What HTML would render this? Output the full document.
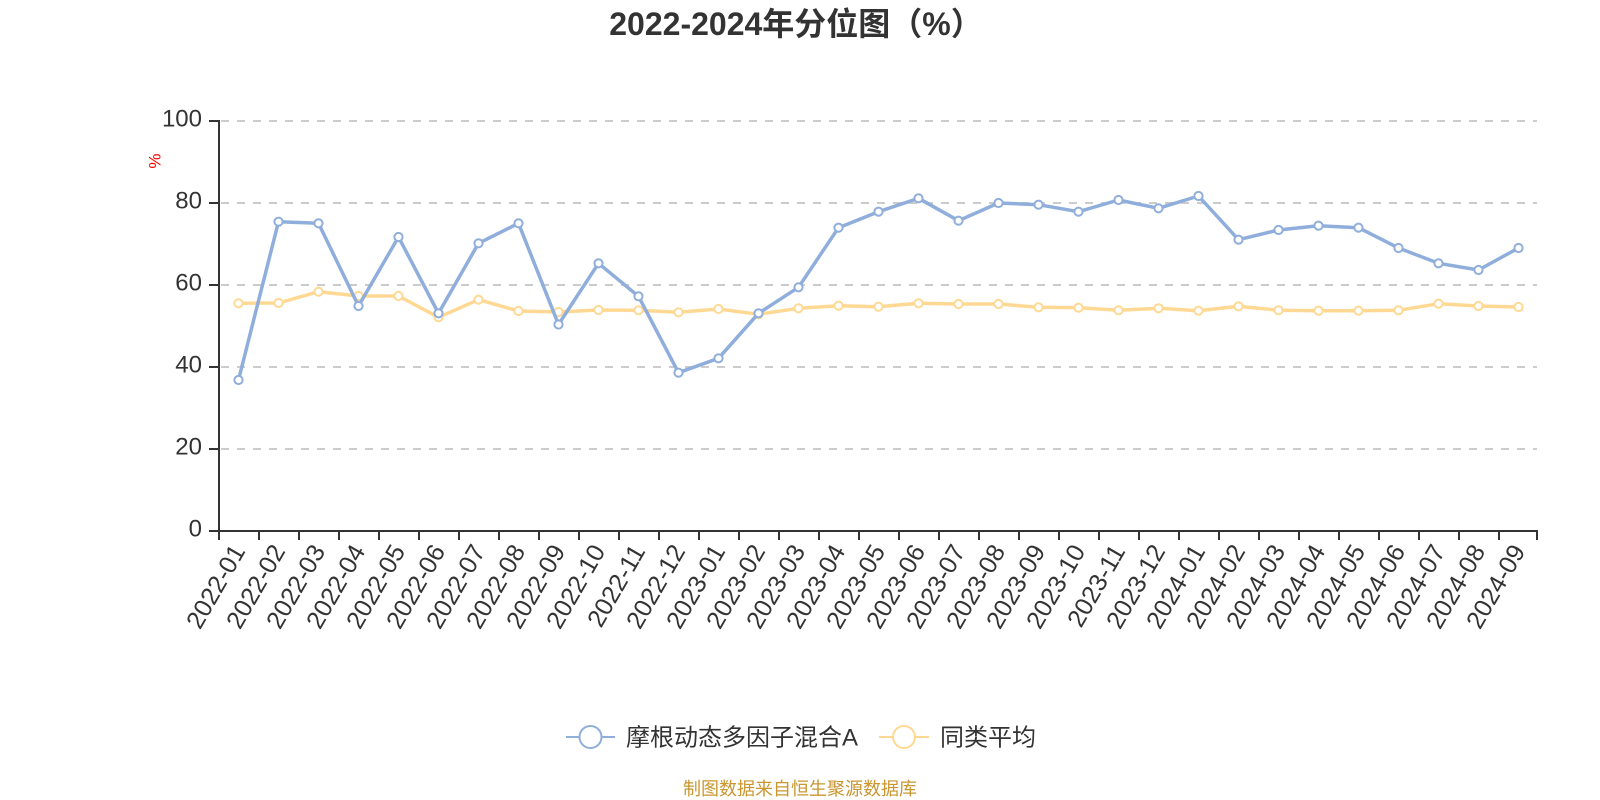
<!DOCTYPE html>
<html>
<head>
<meta charset="utf-8">
<style>
  html, body { margin:0; padding:0; background:#fff; }
  svg { display:block; }
  text { font-family: "Liberation Sans", "Noto Sans CJK SC", sans-serif; }
</style>
</head>
<body>
<svg width="1600" height="800" viewBox="0 0 1600 800" xmlns="http://www.w3.org/2000/svg">
  <rect width="1600" height="800" fill="#fff"/>
  <!-- title -->
  <text x="796" y="35" text-anchor="middle" font-size="32" font-weight="bold" fill="#333">2022-2024年分位图（%）</text>

  <!-- grid lines -->
  <g stroke="#ccc" stroke-width="2" stroke-dasharray="8 8">
    <line x1="221" y1="121" x2="1537" y2="121"/>
    <line x1="221" y1="203" x2="1537" y2="203"/>
    <line x1="221" y1="285" x2="1537" y2="285"/>
    <line x1="221" y1="367" x2="1537" y2="367"/>
    <line x1="221" y1="449" x2="1537" y2="449"/>
  </g>

  <!-- y axis -->
  <g stroke="#333" stroke-width="2">
    <line x1="219" y1="120" x2="219" y2="532"/>
    <line x1="209" y1="121" x2="219" y2="121"/>
    <line x1="209" y1="203" x2="219" y2="203"/>
    <line x1="209" y1="285" x2="219" y2="285"/>
    <line x1="209" y1="367" x2="219" y2="367"/>
    <line x1="209" y1="449" x2="219" y2="449"/>
    <line x1="209" y1="531" x2="219" y2="531"/>
  </g>
  <g font-size="24" fill="#333" text-anchor="end">
    <text x="202" y="126.5">100</text>
    <text x="202" y="208.5">80</text>
    <text x="202" y="290.5">60</text>
    <text x="202" y="372.5">40</text>
    <text x="202" y="454.5">20</text>
    <text x="202" y="536.5">0</text>
  </g>
  <text x="0" y="0" font-size="17" fill="#ff0000" text-anchor="middle" dominant-baseline="central" transform="translate(155,161) rotate(-90)">%</text>

  <!-- x axis -->
  <g stroke="#333" stroke-width="2">
    <line x1="218" y1="531" x2="1538" y2="531"/>
    <line x1="219" y1="531" x2="219" y2="540"/>
    <line x1="259" y1="531" x2="259" y2="540"/>
    <line x1="299" y1="531" x2="299" y2="540"/>
    <line x1="339" y1="531" x2="339" y2="540"/>
    <line x1="379" y1="531" x2="379" y2="540"/>
    <line x1="419" y1="531" x2="419" y2="540"/>
    <line x1="459" y1="531" x2="459" y2="540"/>
    <line x1="499" y1="531" x2="499" y2="540"/>
    <line x1="539" y1="531" x2="539" y2="540"/>
    <line x1="579" y1="531" x2="579" y2="540"/>
    <line x1="619" y1="531" x2="619" y2="540"/>
    <line x1="659" y1="531" x2="659" y2="540"/>
    <line x1="699" y1="531" x2="699" y2="540"/>
    <line x1="739" y1="531" x2="739" y2="540"/>
    <line x1="779" y1="531" x2="779" y2="540"/>
    <line x1="819" y1="531" x2="819" y2="540"/>
    <line x1="859" y1="531" x2="859" y2="540"/>
    <line x1="899" y1="531" x2="899" y2="540"/>
    <line x1="939" y1="531" x2="939" y2="540"/>
    <line x1="979" y1="531" x2="979" y2="540"/>
    <line x1="1019" y1="531" x2="1019" y2="540"/>
    <line x1="1059" y1="531" x2="1059" y2="540"/>
    <line x1="1099" y1="531" x2="1099" y2="540"/>
    <line x1="1139" y1="531" x2="1139" y2="540"/>
    <line x1="1179" y1="531" x2="1179" y2="540"/>
    <line x1="1219" y1="531" x2="1219" y2="540"/>
    <line x1="1259" y1="531" x2="1259" y2="540"/>
    <line x1="1299" y1="531" x2="1299" y2="540"/>
    <line x1="1339" y1="531" x2="1339" y2="540"/>
    <line x1="1379" y1="531" x2="1379" y2="540"/>
    <line x1="1419" y1="531" x2="1419" y2="540"/>
    <line x1="1459" y1="531" x2="1459" y2="540"/>
    <line x1="1499" y1="531" x2="1499" y2="540"/>
    <line x1="1537" y1="531" x2="1537" y2="540"/>
  </g>
  <g font-size="25" fill="#333" text-anchor="end" dominant-baseline="central">
    <text transform="translate(239,547) rotate(-60)">2022-01</text>
    <text transform="translate(279,547) rotate(-60)">2022-02</text>
    <text transform="translate(319,547) rotate(-60)">2022-03</text>
    <text transform="translate(359,547) rotate(-60)">2022-04</text>
    <text transform="translate(399,547) rotate(-60)">2022-05</text>
    <text transform="translate(439,547) rotate(-60)">2022-06</text>
    <text transform="translate(479,547) rotate(-60)">2022-07</text>
    <text transform="translate(519,547) rotate(-60)">2022-08</text>
    <text transform="translate(559,547) rotate(-60)">2022-09</text>
    <text transform="translate(599,547) rotate(-60)">2022-10</text>
    <text transform="translate(639,547) rotate(-60)">2022-11</text>
    <text transform="translate(679,547) rotate(-60)">2022-12</text>
    <text transform="translate(719,547) rotate(-60)">2023-01</text>
    <text transform="translate(759,547) rotate(-60)">2023-02</text>
    <text transform="translate(799,547) rotate(-60)">2023-03</text>
    <text transform="translate(839,547) rotate(-60)">2023-04</text>
    <text transform="translate(879,547) rotate(-60)">2023-05</text>
    <text transform="translate(919,547) rotate(-60)">2023-06</text>
    <text transform="translate(959,547) rotate(-60)">2023-07</text>
    <text transform="translate(999,547) rotate(-60)">2023-08</text>
    <text transform="translate(1039,547) rotate(-60)">2023-09</text>
    <text transform="translate(1079,547) rotate(-60)">2023-10</text>
    <text transform="translate(1119,547) rotate(-60)">2023-11</text>
    <text transform="translate(1159,547) rotate(-60)">2023-12</text>
    <text transform="translate(1199,547) rotate(-60)">2024-01</text>
    <text transform="translate(1239,547) rotate(-60)">2024-02</text>
    <text transform="translate(1279,547) rotate(-60)">2024-03</text>
    <text transform="translate(1319,547) rotate(-60)">2024-04</text>
    <text transform="translate(1359,547) rotate(-60)">2024-05</text>
    <text transform="translate(1399,547) rotate(-60)">2024-06</text>
    <text transform="translate(1439,547) rotate(-60)">2024-07</text>
    <text transform="translate(1479,547) rotate(-60)">2024-08</text>
    <text transform="translate(1519,547) rotate(-60)">2024-09</text>
  </g>

  <!-- yellow series (同类平均) -->
  <polyline fill="none" stroke="#FFD993" stroke-width="3.5" stroke-linejoin="round"
    points="238.5,303.3 278.5,303 318.5,291.7 358.5,296 398.5,296 438.5,317.3 478.5,299.7 518.5,311 558.5,312 598.5,310 638.5,310.3 678.5,312.3 718.5,309 758.5,314.3 798.5,308.3 838.5,305.7 878.5,306.7 918.5,303.3 958.5,304 998.5,304 1038.5,307.3 1078.5,307.7 1118.5,310.3 1158.5,308.3 1198.5,310.7 1238.5,306.3 1278.5,310.3 1318.5,310.7 1358.5,310.7 1398.5,310.3 1438.5,303.7 1478.5,306 1518.5,307"/>
  <g fill="#fff" stroke="#FFD993" stroke-width="2">
    <circle cx="238.5" cy="303.3" r="4.1"/><circle cx="278.5" cy="303" r="4.1"/><circle cx="318.5" cy="291.7" r="4.1"/><circle cx="358.5" cy="296" r="4.1"/><circle cx="398.5" cy="296" r="4.1"/><circle cx="438.5" cy="317.3" r="4.1"/><circle cx="478.5" cy="299.7" r="4.1"/><circle cx="518.5" cy="311" r="4.1"/><circle cx="558.5" cy="312" r="4.1"/><circle cx="598.5" cy="310" r="4.1"/><circle cx="638.5" cy="310.3" r="4.1"/><circle cx="678.5" cy="312.3" r="4.1"/><circle cx="718.5" cy="309" r="4.1"/><circle cx="758.5" cy="314.3" r="4.1"/><circle cx="798.5" cy="308.3" r="4.1"/><circle cx="838.5" cy="305.7" r="4.1"/><circle cx="878.5" cy="306.7" r="4.1"/><circle cx="918.5" cy="303.3" r="4.1"/><circle cx="958.5" cy="304" r="4.1"/><circle cx="998.5" cy="304" r="4.1"/><circle cx="1038.5" cy="307.3" r="4.1"/><circle cx="1078.5" cy="307.7" r="4.1"/><circle cx="1118.5" cy="310.3" r="4.1"/><circle cx="1158.5" cy="308.3" r="4.1"/><circle cx="1198.5" cy="310.7" r="4.1"/><circle cx="1238.5" cy="306.3" r="4.1"/><circle cx="1278.5" cy="310.3" r="4.1"/><circle cx="1318.5" cy="310.7" r="4.1"/><circle cx="1358.5" cy="310.7" r="4.1"/><circle cx="1398.5" cy="310.3" r="4.1"/><circle cx="1438.5" cy="303.7" r="4.1"/><circle cx="1478.5" cy="306" r="4.1"/><circle cx="1518.5" cy="307" r="4.1"/>
  </g>

  <!-- blue series -->
  <polyline fill="none" stroke="#8FAEDC" stroke-width="3.5" stroke-linejoin="round"
    points="238.5,380 278.5,221.7 318.5,223.3 358.5,306 398.5,237 438.5,313.3 478.5,243.3 518.5,223.3 558.5,324.5 598.5,263.3 638.5,296.3 678.5,372.7 718.5,358.3 758.5,313.3 798.5,287.3 838.5,227.7 878.5,211.7 918.5,198.3 958.5,220.7 998.5,203 1038.5,204.7 1078.5,211.7 1118.5,200 1158.5,208.3 1198.5,196 1238.5,239.7 1278.5,230 1318.5,225.7 1358.5,227.7 1398.5,248 1438.5,263.3 1478.5,270 1518.5,248"/>
  <g fill="#fff" stroke="#8FAEDC" stroke-width="2">
    <circle cx="238.5" cy="380" r="4.1"/><circle cx="278.5" cy="221.7" r="4.1"/><circle cx="318.5" cy="223.3" r="4.1"/><circle cx="358.5" cy="306" r="4.1"/><circle cx="398.5" cy="237" r="4.1"/><circle cx="438.5" cy="313.3" r="4.1"/><circle cx="478.5" cy="243.3" r="4.1"/><circle cx="518.5" cy="223.3" r="4.1"/><circle cx="558.5" cy="324.5" r="4.1"/><circle cx="598.5" cy="263.3" r="4.1"/><circle cx="638.5" cy="296.3" r="4.1"/><circle cx="678.5" cy="372.7" r="4.1"/><circle cx="718.5" cy="358.3" r="4.1"/><circle cx="758.5" cy="313.3" r="4.1"/><circle cx="798.5" cy="287.3" r="4.1"/><circle cx="838.5" cy="227.7" r="4.1"/><circle cx="878.5" cy="211.7" r="4.1"/><circle cx="918.5" cy="198.3" r="4.1"/><circle cx="958.5" cy="220.7" r="4.1"/><circle cx="998.5" cy="203" r="4.1"/><circle cx="1038.5" cy="204.7" r="4.1"/><circle cx="1078.5" cy="211.7" r="4.1"/><circle cx="1118.5" cy="200" r="4.1"/><circle cx="1158.5" cy="208.3" r="4.1"/><circle cx="1198.5" cy="196" r="4.1"/><circle cx="1238.5" cy="239.7" r="4.1"/><circle cx="1278.5" cy="230" r="4.1"/><circle cx="1318.5" cy="225.7" r="4.1"/><circle cx="1358.5" cy="227.7" r="4.1"/><circle cx="1398.5" cy="248" r="4.1"/><circle cx="1438.5" cy="263.3" r="4.1"/><circle cx="1478.5" cy="270" r="4.1"/><circle cx="1518.5" cy="248" r="4.1"/>
  </g>

  <!-- legend -->
  <line x1="566" y1="737" x2="615" y2="737" stroke="#8FAEDC" stroke-width="2"/>
  <circle cx="590.5" cy="737" r="11" fill="#fff" stroke="#8FAEDC" stroke-width="2"/>
  <text x="626" y="745.5" font-size="24" fill="#333">摩根动态多因子混合A</text>
  <line x1="879" y1="737" x2="929" y2="737" stroke="#FFD993" stroke-width="2"/>
  <circle cx="904" cy="737" r="11" fill="#fff" stroke="#FFD993" stroke-width="2"/>
  <text x="940" y="745.5" font-size="24" fill="#333">同类平均</text>

  <!-- footer -->
  <text x="800" y="795" text-anchor="middle" font-size="18" fill="#C9962F">制图数据来自恒生聚源数据库</text>
</svg>
</body>
</html>
